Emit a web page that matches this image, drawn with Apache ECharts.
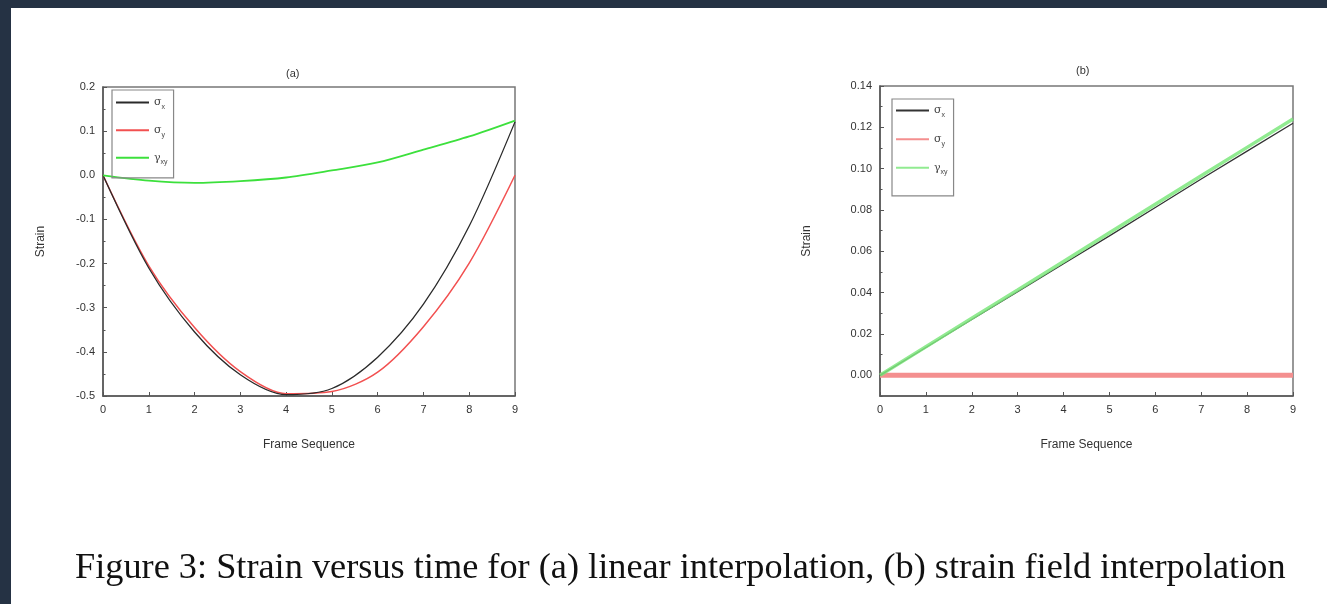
<!DOCTYPE html>
<html>
<head>
<meta charset="utf-8">
<script src="https://cdn.jsdelivr.net/npm/echarts@6/dist/echarts.min.js"></script>
<style>
  html, body { margin: 0; padding: 0; background: #253244; }
  #wrap { position: absolute; left: 11px; top: 8px; right: 0; bottom: 0; background: #fff; }
  #chart { position: absolute; left: -11px; top: -8px; width: 1327px; height: 604px; }
</style>
</head>
<body>
<div id="wrap"><div id="chart"></div></div>
<script>
// frame numbers (x)
var frames = [0, 1, 2, 3, 4, 5, 6, 7, 8, 9];

// (a) linear interpolation
var aSigmaX = [0, -0.21, -0.355, -0.452, -0.497, -0.483, -0.412, -0.292, -0.115, 0.121];
var aSigmaY = [0, -0.205, -0.345, -0.445, -0.495, -0.49, -0.446, -0.343, -0.199, 0.0];
var aGamma  = [0, -0.012, -0.017, -0.013, -0.005, 0.011, 0.029, 0.058, 0.088, 0.124];

// (b) strain field interpolation
var bSigmaX = [0, 0.0135, 0.027, 0.0405, 0.054, 0.0675, 0.0812, 0.095, 0.1085, 0.122];
var bSigmaY = [0, 0, 0, 0, 0, 0, 0, 0, 0, 0];
var bGamma  = [0, 0.0138, 0.0276, 0.0413, 0.0551, 0.069, 0.0828, 0.0966, 0.1103, 0.124];

var bLabels = [0, 0.02, 0.04, 0.06, 0.08, 0.10, 0.12, 0.14];
var bMinor  = [-0.01, 0.01, 0.03, 0.05, 0.07, 0.09, 0.11, 0.13];

function pairs(ys) {
  return frames.map(function (x, i) { return [x, ys[i]]; });
}

var labelNames = {
  a_sx: '{g|σ}{s|x}', a_sy: '{g|σ}{s|y}', a_gxy: '{g|γ}{s|xy}',
  b_sx: '{g|σ}{s|x}', b_sy: '{g|σ}{s|y}', b_gxy: '{g|γ}{s|xy}'
};

var axisCol = '#555';
var labelFont = { color: '#333', fontSize: 11, fontFamily: 'Liberation Sans, Arial' };
var rich = {
  g: { fontSize: 11, color: '#444', fontFamily: 'DejaVu Serif' },
  s: { fontSize: 7, color: '#444', padding: [9, 0, 0, 0], fontFamily: 'Liberation Sans' }
};

function xAx(grid) {
  return {
    type: 'value', gridIndex: grid, min: 0, max: 9, interval: 1,
    name: 'Frame Sequence', nameLocation: 'middle', nameGap: 43,
    nameTextStyle: { color: '#333', fontSize: 12, fontFamily: 'Liberation Sans' },
    axisLine: { onZero: false, lineStyle: { color: axisCol, width: 1.5 } },
    axisTick: { inside: true, length: 4, lineStyle: { color: axisCol } },
    axisLabel: labelFont,
    splitLine: { show: false }
  };
}

var chart = echarts.init(document.getElementById('chart'));
chart.setOption({
  backgroundColor: 'transparent',
  animation: false,
  title: [
    { text: '(a)', left: 281, top: 63, textStyle: { fontSize: 11, fontWeight: 'normal', color: '#333', fontFamily: 'Liberation Sans' } },
    { text: '(b)', left: 1071, top: 60, textStyle: { fontSize: 11, fontWeight: 'normal', color: '#333', fontFamily: 'Liberation Sans' } }
  ],
  grid: [
    { left: 103, top: 87, width: 412, height: 309, show: true, borderColor: '#777', borderWidth: 1.5, backgroundColor: 'transparent' },
    { left: 880, top: 86, width: 413, height: 310, show: true, borderColor: '#777', borderWidth: 1.5, backgroundColor: 'transparent' }
  ],
  legend: [
    {
      data: ['a_sx', 'a_sy', 'a_gxy'], orient: 'vertical', left: 112, top: 90,
      itemWidth: 33, itemHeight: 14, itemGap: 14, padding: [7, 6, 12, 3],
      borderColor: '#888', borderWidth: 1.2, borderRadius: 0,
      itemStyle: { opacity: 0 },
      formatter: function (n) { return labelNames[n]; },
      textStyle: { rich: rich }, selectedMode: false
    },
    {
      data: ['b_sx', 'b_sy', 'b_gxy'], orient: 'vertical', left: 892, top: 99,
      itemWidth: 33, itemHeight: 14, itemGap: 15, padding: [6, 6, 20, 3],
      borderColor: '#888', borderWidth: 1.2, borderRadius: 0,
      itemStyle: { opacity: 0 },
      formatter: function (n) { return labelNames[n]; },
      textStyle: { rich: rich }, selectedMode: false
    }
  ],
  xAxis: [xAx(0), xAx(1)],
  yAxis: [
    {
      type: 'value', gridIndex: 0, min: -0.5, max: 0.2, interval: 0.1,
      name: 'Strain', nameLocation: 'middle', nameGap: 56,
      nameTextStyle: { color: '#333', fontSize: 12, fontFamily: 'Liberation Sans' },
      axisLine: { show: true, lineStyle: { color: axisCol, width: 1.5 } },
      axisTick: { inside: true, length: 4, lineStyle: { color: axisCol } },
      minorTick: { show: true, splitNumber: 2, length: 2.5, lineStyle: { color: axisCol } },
      axisLabel: Object.assign({ formatter: function (v) { return v.toFixed(1); } }, labelFont),
      splitLine: { show: false }
    },
    {
      type: 'value', gridIndex: 1, min: -0.01, max: 0.14,
      name: 'Strain', nameLocation: 'middle', nameGap: 67,
      nameTextStyle: { color: '#333', fontSize: 12, fontFamily: 'Liberation Sans' },
      axisLine: { show: true, lineStyle: { color: axisCol, width: 1.5 } },
      axisTick: { inside: true, length: 4, customValues: bLabels, lineStyle: { color: axisCol } },
      axisLabel: Object.assign({ customValues: bLabels, formatter: function (v) { return v.toFixed(2); } }, labelFont),
      splitLine: { show: false }
    },
    {
      type: 'value', gridIndex: 1, min: -0.01, max: 0.14, position: 'left',
      axisLine: { show: false },
      axisTick: { inside: true, length: 2.5, customValues: bMinor, lineStyle: { color: axisCol } },
      axisLabel: { show: false },
      splitLine: { show: false }
    }
  ],
  series: [
    { name: 'a_sy', type: 'line', xAxisIndex: 0, yAxisIndex: 0, data: pairs(aSigmaY), smooth: 0.3, symbol: 'none',
      lineStyle: { color: '#f25050', width: 1.5 }, itemStyle: { color: '#f25050' } },
    { name: 'a_sx', type: 'line', xAxisIndex: 0, yAxisIndex: 0, data: pairs(aSigmaX), smooth: 0.3, symbol: 'none',
      lineStyle: { color: '#2a2a2a', width: 1.3 }, itemStyle: { color: '#2a2a2a' } },
    { name: 'a_gxy', type: 'line', xAxisIndex: 0, yAxisIndex: 0, data: pairs(aGamma), smooth: 0.3, symbol: 'none',
      lineStyle: { color: '#3ce03c', width: 1.8 }, itemStyle: { color: '#3ce03c' } },

    { name: 'b_sy', type: 'line', xAxisIndex: 1, yAxisIndex: 1, data: pairs(bSigmaY), symbol: 'none',
      lineStyle: { color: '#f48f8f', width: 5 }, itemStyle: { color: '#f48f8f' } },
    { name: 'b_sx', type: 'line', xAxisIndex: 1, yAxisIndex: 1, data: pairs(bSigmaX), symbol: 'none',
      lineStyle: { color: '#333', width: 1.3 }, itemStyle: { color: '#333' } },
    { name: 'b_gxy', type: 'line', xAxisIndex: 1, yAxisIndex: 1, data: pairs(bGamma), symbol: 'none',
      lineStyle: { color: '#7ee87e', width: 3.5, opacity: 0.85 }, itemStyle: { color: '#7ee87e' } }
  ],
  graphic: [
    {
      type: 'text', left: 75, top: 550,
      style: {
        text: 'Figure 3: Strain versus time for (a) linear interpolation, (b) strain field interpolation',
        font: '36.3px "Liberation Serif", "Times New Roman", serif', fill: '#111'
      }
    }
  ]
});
</script>
</body>
</html>
